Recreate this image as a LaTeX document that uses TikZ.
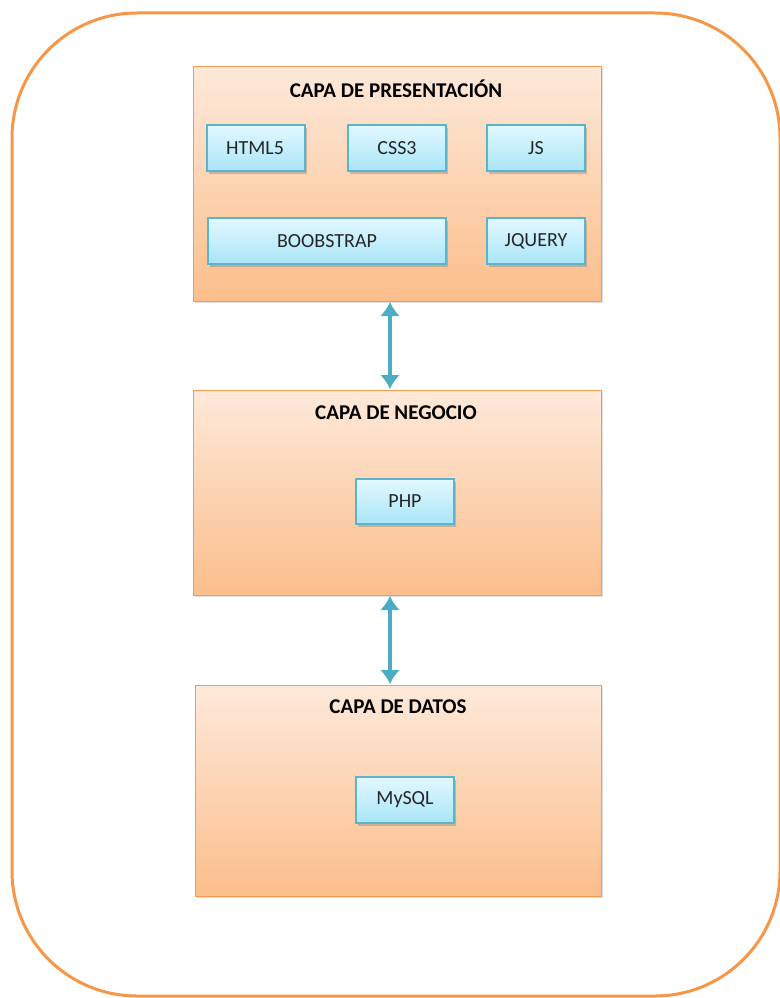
\documentclass[tikz,border=0pt]{standalone}
\usepackage{fontspec}
\setmainfont{Carlito}
\usetikzlibrary{shadows,arrows.meta}
\definecolor{frameorange}{HTML}{F79646}
\definecolor{layertop}{HTML}{FDE9DA}
\definecolor{layerbot}{HTML}{FBBE8B}
\definecolor{layerline}{HTML}{F59A55}
\definecolor{techtop}{HTML}{E2F8FF}
\definecolor{techbot}{HTML}{A9E5F8}
\definecolor{techline}{HTML}{5AB4CC}
\definecolor{arrowblue}{HTML}{4BACC6}
\tikzset{
  layer/.style={draw=layerline, line width=1pt, top color=layertop, bottom color=layerbot,
    drop shadow={shadow xshift=1.5pt, shadow yshift=-1.5pt, opacity=0.25}},
  tech/.style={draw=techline, line width=1.2pt, top color=techtop, bottom color=techbot,
    drop shadow={shadow xshift=2pt, shadow yshift=-2.5pt, opacity=0.4}},
  techtext/.style={font=\fontsize{20}{22}\selectfont, text=black!85},
  title/.style={font=\fontsize{21}{23}\selectfont\bfseries, text=black},
  link/.style={arrowblue, line width=4.5pt, {Latex[length=14pt,width=20pt]}-{Latex[length=14pt,width=20pt]}, shorten >=1pt, shorten <=1pt}
}
\begin{document}
\begin{tikzpicture}[x=1pt,y=-1pt]
\useasboundingbox (0,0) rectangle (779,998);
\draw[frameorange, line width=3pt, rounded corners=125pt] (12,13) rectangle (780,996);

% layers
\draw[layer] (193,67) rectangle (601,301);
\coordinate (presN) at (390,301);
\draw[layer] (193,390) rectangle (601,595);
\coordinate (negN) at (390,390);
\coordinate (negS) at (390,595);
\draw[layer] (195,685) rectangle (601,896);
\coordinate (datN) at (390,685);

\node[title] (tpres) at (396,89) {CAPA DE PRESENTACIÓN};
\node[title] (tneg) at (396,413) {CAPA DE NEGOCIO};
\node[title] (tdat) at (398,707) {CAPA DE DATOS};

% tech boxes
\draw[tech] (207,125) rectangle (305,171);
\node[techtext] (html) at (255,148) {HTML5};
\draw[tech] (348,125) rectangle (446,171);
\node[techtext] (css) at (397,148) {CSS3};
\draw[tech] (487,125) rectangle (585,171);
\node[techtext] (js) at (536,148) {JS};
\draw[tech] (208,218) rectangle (446,264);
\node[techtext] (boot) at (327,241) {BOOBSTRAP};
\draw[tech] (487,218) rectangle (585,264);
\node[techtext] (jq) at (536,241) {JQUERY};
\draw[tech] (356,479) rectangle (454,524);
\node[techtext] (php) at (405,501) {PHP};
\draw[tech] (356,777) rectangle (454,823);
\node[techtext] (mysql) at (405,800) {MySQL};

% arrows
\draw[link] (presN) -- (negN);
\draw[link] (negS) -- (datN);
\end{tikzpicture}
\end{document}
